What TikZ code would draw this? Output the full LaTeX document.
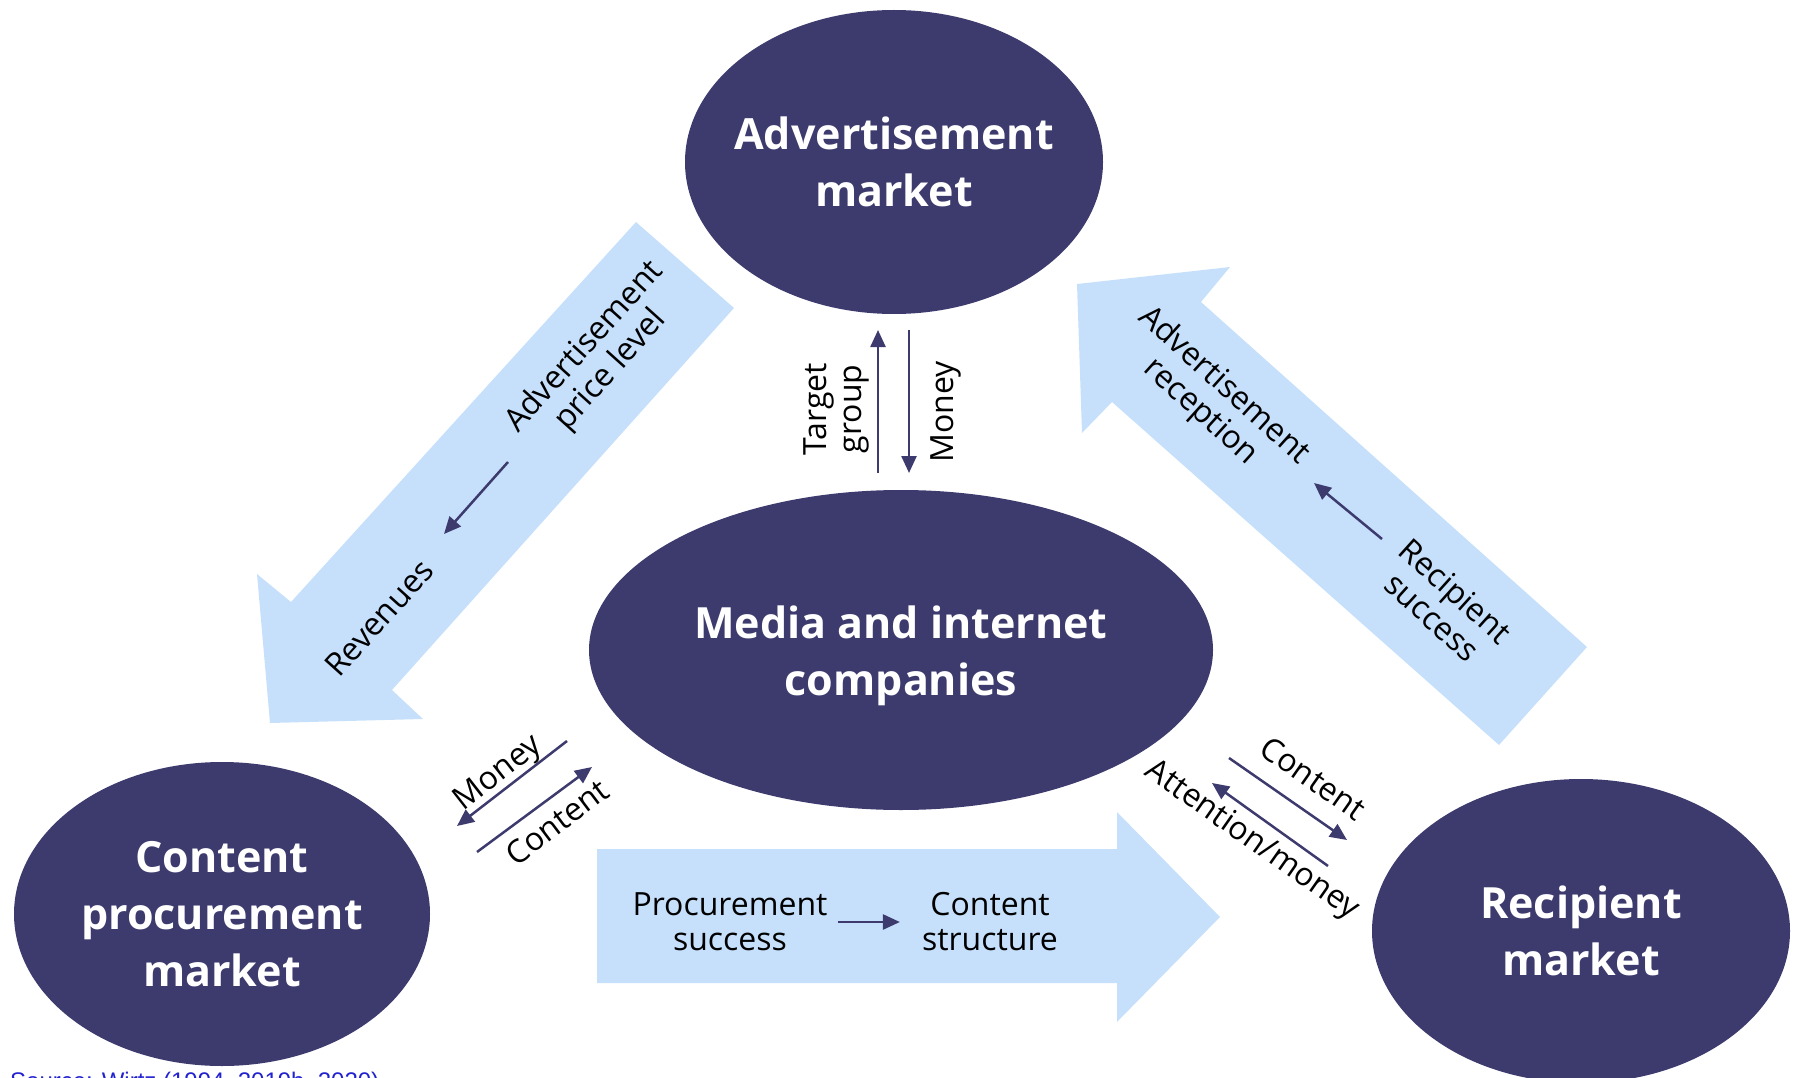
\documentclass[tikz,border=0pt]{standalone}
\usepackage{fontspec}
\setmainfont{Open Sans}
\newfontfamily\srcfont{Liberation Sans}
\usetikzlibrary{shapes.geometric}
\usetikzlibrary{arrows.meta}
\definecolor{navy}{HTML}{3D3B6E}
\definecolor{pale}{HTML}{C6E0FB}
\definecolor{srcblue}{HTML}{2222D0}
\newcommand{\marketfont}{\bfseries\fontsize{43}{57}\selectfont}
\newcommand{\flowfont}{\fontsize{32}{35}\selectfont}
\newcommand{\market}[7][]{\node[market, minimum width=#5, minimum height=#6, label={[markettext,#1]center:#7}] (#2) at (#3,#4) {};}
\newcommand{\flowlabel}[5]{\node[flowtext, rotate=#4] (#1) at (#2,#3) {#5};}
\newcommand{\link}[2]{\draw[link] (#1) -- (#2);}

\begin{document}
\begin{tikzpicture}[x=1pt, y=-1pt,
    market/.style={ellipse, fill=navy, draw=none, inner sep=0pt},
    markettext/.style={text=white, font=\marketfont, align=center, inner sep=0pt},
    flowtext/.style={inner sep=0pt, font=\flowfont, align=center},
    band/.style={fill=pale, draw=none},
    link/.style={draw=navy, line width=2.5pt, -{Triangle[length=17pt, width=15pt]}}]

        \useasboundingbox (0,0) rectangle (1797,1078);

        % bands
        \fill[band] (636,222) -- (734,308) -- (392,690) -- (423,719) -- (270,723) -- (257,574) -- (291,602) -- cycle;
        \fill[band] (1587,647) -- (1201,302) -- (1230,267) -- (1077,284) -- (1082,433) -- (1112,402) -- (1499,745) -- cycle;
        \fill[band] (597,849) -- (1117,849) -- (1117,812) -- (1220,917) -- (1117,1022) -- (1117,983) -- (597,983) -- cycle;

        % markets
        \market{adv}{894}{162}{418}{304}{Advertisement\\market}
        \market[yshift=-6pt]{media}{901}{650}{624}{320}{Media and internet\\companies}
        \market{procure}{222}{914}{416}{304}{Content\\procurement\\market}
        \market{recip}{1581}{931}{418}{304}{Recipient\\market}

        % adv <-> media
        \coordinate (tgtA) at (878,473);
        \coordinate (tgtB) at (878,330);
        \coordinate (monA) at (909,330);
        \coordinate (monB) at (909,473);
        \link{tgtA}{tgtB}
        \link{monA}{monB}
        \flowlabel{tgt}{836}{409}{90}{Target\\group}
        \flowlabel{mon}{946}{412}{90}{Money}

        % procurement <-> media
        \coordinate (lmA) at (567,741);
        \coordinate (lmB) at (457,826);
        \coordinate (lcA) at (477,852);
        \coordinate (lcB) at (592,767);
        \link{lmA}{lmB}
        \link{lcA}{lcB}
        \flowlabel{lmon}{499}{774}{38}{Money}
        \flowlabel{lcon}{557}{822}{37}{Content}

        % media <-> recipient
        \coordinate (rcA) at (1229,758);
        \coordinate (rcB) at (1347,840);
        \coordinate (raA) at (1328,866);
        \coordinate (raB) at (1212,783);
        \link{rcA}{rcB}
        \link{raA}{raB}
        \flowlabel{rcon}{1313}{778}{-35}{Content}
        \flowlabel{ratt}{1252}{841}{-35}{Attention/money}

        % left band
        \flowlabel{price}{598}{359}{48}{Advertisement\\price level}
        \flowlabel{rev}{379}{618}{48}{Revenues}
        \coordinate (priceA) at (508,462);
        \coordinate (priceB) at (444,534);
        \link{priceA}{priceB}

        % right band
        \flowlabel{recep}{1212}{399}{-42}{Advertisement\\reception}
        \flowlabel{succ}{1444}{604}{-42}{Recipient\\success}
        \coordinate (succA) at (1382,539);
        \coordinate (succB) at (1314,483);
        \link{succA}{succB}

        % bottom band
        \flowlabel{psucc}{730}{922}{0}{Procurement\\success}
        \flowlabel{cstruct}{990}{922}{0}{Content\\structure}
        \draw[link, shorten <=10pt, shorten >=22pt] (psucc) -- (cstruct);

        \node[anchor=base west, font=\srcfont\fontsize{24}{28}\selectfont, text=srcblue, inner sep=0pt] (src) at (10,1089) {Source: Wirtz (1994, 2019b, 2020)};

    \end{tikzpicture}
\end{document}
